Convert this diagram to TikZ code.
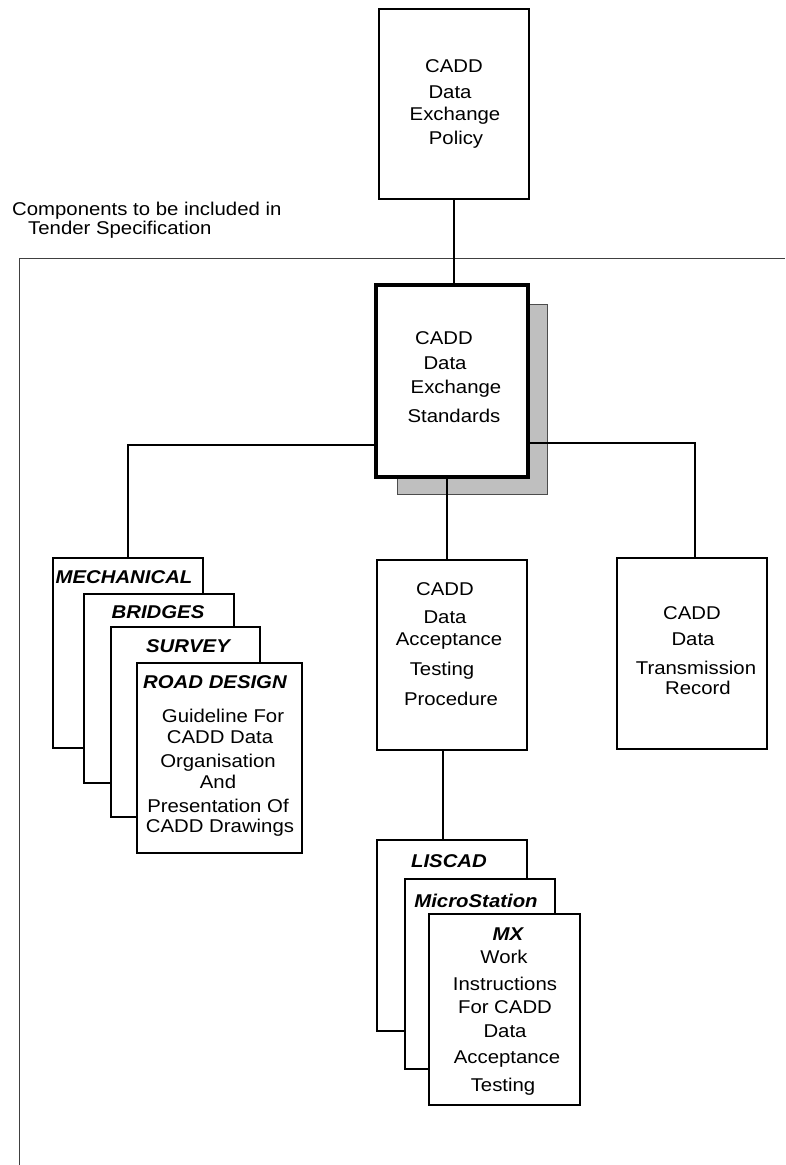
\documentclass[tikz,border=0pt]{standalone}
\usepackage{fontspec}
\setmainfont[FakeStretch=1.1]{Liberation Sans}
\begin{document}
\begin{tikzpicture}[x=1pt,y=-1pt,
  box/.style={draw=black, line width=1.6pt, fill=white, rectangle, inner sep=0pt},
  thickbox/.style={box, line width=4pt},
  shadowbox/.style={draw=black!70, line width=0.8pt, fill=black!25, rectangle, inner sep=0pt},
  conn/.style={draw=black, line width=1.6pt},
  frame/.style={draw=black!75, line width=1pt},
  txt/.style={inner sep=0pt, anchor=base, font=\fontsize{18.5}{20}\selectfont},
  ltxt/.style={txt, anchor=base west},
  head/.style={txt, font=\fontsize{18.5}{20}\selectfont\bfseries\itshape}]
\useasboundingbox (0,0) rectangle (785,1165);

% frame of the tender specification area
\draw[frame] (19,1165) -- (19,258) -- (785,258);
\node[ltxt] (comp1) at (12,215) {Components to be included in};
\node[ltxt] (comp2) at (28,234) {Tender Specification};

% policy
\node[box, minimum width=150pt, minimum height=190pt] (policy) at (454,104) {};
\node[txt] (p1) at (454,72) {CADD};
\node[txt] (p2) at (450,98) {Data};
\node[txt] (p3) at (455,120) {Exchange};
\node[txt] (p4) at (456,144) {Policy};

% standards with shadow
\node[shadowbox, minimum width=150pt, minimum height=190pt] (shadow) at (472,399) {};
\node[thickbox, minimum width=152pt, minimum height=192pt] (std) at (452,381) {};
\node[txt] (s1) at (444,344) {CADD};
\node[txt] (s2) at (445,369) {Data};
\node[txt] (s3) at (456,393) {Exchange};
\node[txt] (s4) at (454,422) {Standards};

% acceptance procedure
\node[box, minimum width=150pt, minimum height=190pt] (accept) at (452,655) {};
\node[txt] (a1) at (445,595) {CADD};
\node[txt] (a2) at (445,623) {Data};
\node[txt] (a3) at (449,645) {Acceptance};
\node[txt] (a4) at (442,675) {Testing};
\node[txt] (a5) at (451,705) {Procedure};

% transmission record
\node[box, minimum width=150pt, minimum height=191pt] (trans) at (692,653.5) {};
\node[txt] (t1) at (692,619) {CADD};
\node[txt] (t2) at (693,645) {Data};
\node[txt] (t3) at (696,674) {Transmission};
\node[txt] (t4) at (698,694) {Record};

% left stack
\node[box, minimum width=150pt, minimum height=190pt] (mech) at (128,653) {};
\node[head] (mechl) at (124,583) {MECHANICAL};
\node[box, minimum width=150pt, minimum height=189pt] (bridges) at (159,688.5) {};
\node[head] (bridgesl) at (158,618) {BRIDGES};
\node[box, minimum width=149pt, minimum height=190pt] (survey) at (185.5,722) {};
\node[head] (surveyl) at (188,652) {SURVEY};
\node[box, minimum width=165pt, minimum height=190pt] (road) at (219.5,758) {};
\node[head] (roadl) at (215,688) {ROAD DESIGN};
\node[txt] (r1) at (223,722) {Guideline For};
\node[txt] (r2) at (220,743) {CADD Data};
\node[txt] (r3) at (218,767) {Organisation};
\node[txt] (r4) at (218,788) {And};
\node[txt] (r5) at (218,812) {Presentation Of};
\node[txt] (r6) at (220,832) {CADD Drawings};

% lower stack
\node[box, minimum width=150pt, minimum height=191pt] (liscad) at (452,935.5) {};
\node[head] (liscadl) at (449,867) {LISCAD};
\node[box, minimum width=150pt, minimum height=190pt] (micro) at (480,974) {};
\node[head] (microl) at (476,907) {MicroStation};
\node[box, minimum width=151pt, minimum height=191pt] (mx) at (504.5,1009.5) {};
\node[head] (mxl) at (508,940) {MX};
\node[txt] (m1) at (504,963) {Work};
\node[txt] (m2) at (505,990) {Instructions};
\node[txt] (m3) at (505,1013) {For CADD};
\node[txt] (m4) at (505,1037) {Data};
\node[txt] (m5) at (507,1063) {Acceptance};
\node[txt] (m6) at (503,1091) {Testing};

% connectors
\draw[conn] (policy.south) -- (policy.south |- std.north);
\draw[conn] ([yshift=-64pt]std.west) -| (mech.north);
\draw[conn] ([yshift=-62pt]std.east) -| ([xshift=3pt]trans.north);
\draw[conn] ([xshift=-5pt]std.south) -- ([xshift=-5pt]accept.north);
\draw[conn] ([xshift=-9pt]accept.south) -- ([xshift=-9pt]liscad.north);
\end{tikzpicture}
\end{document}
